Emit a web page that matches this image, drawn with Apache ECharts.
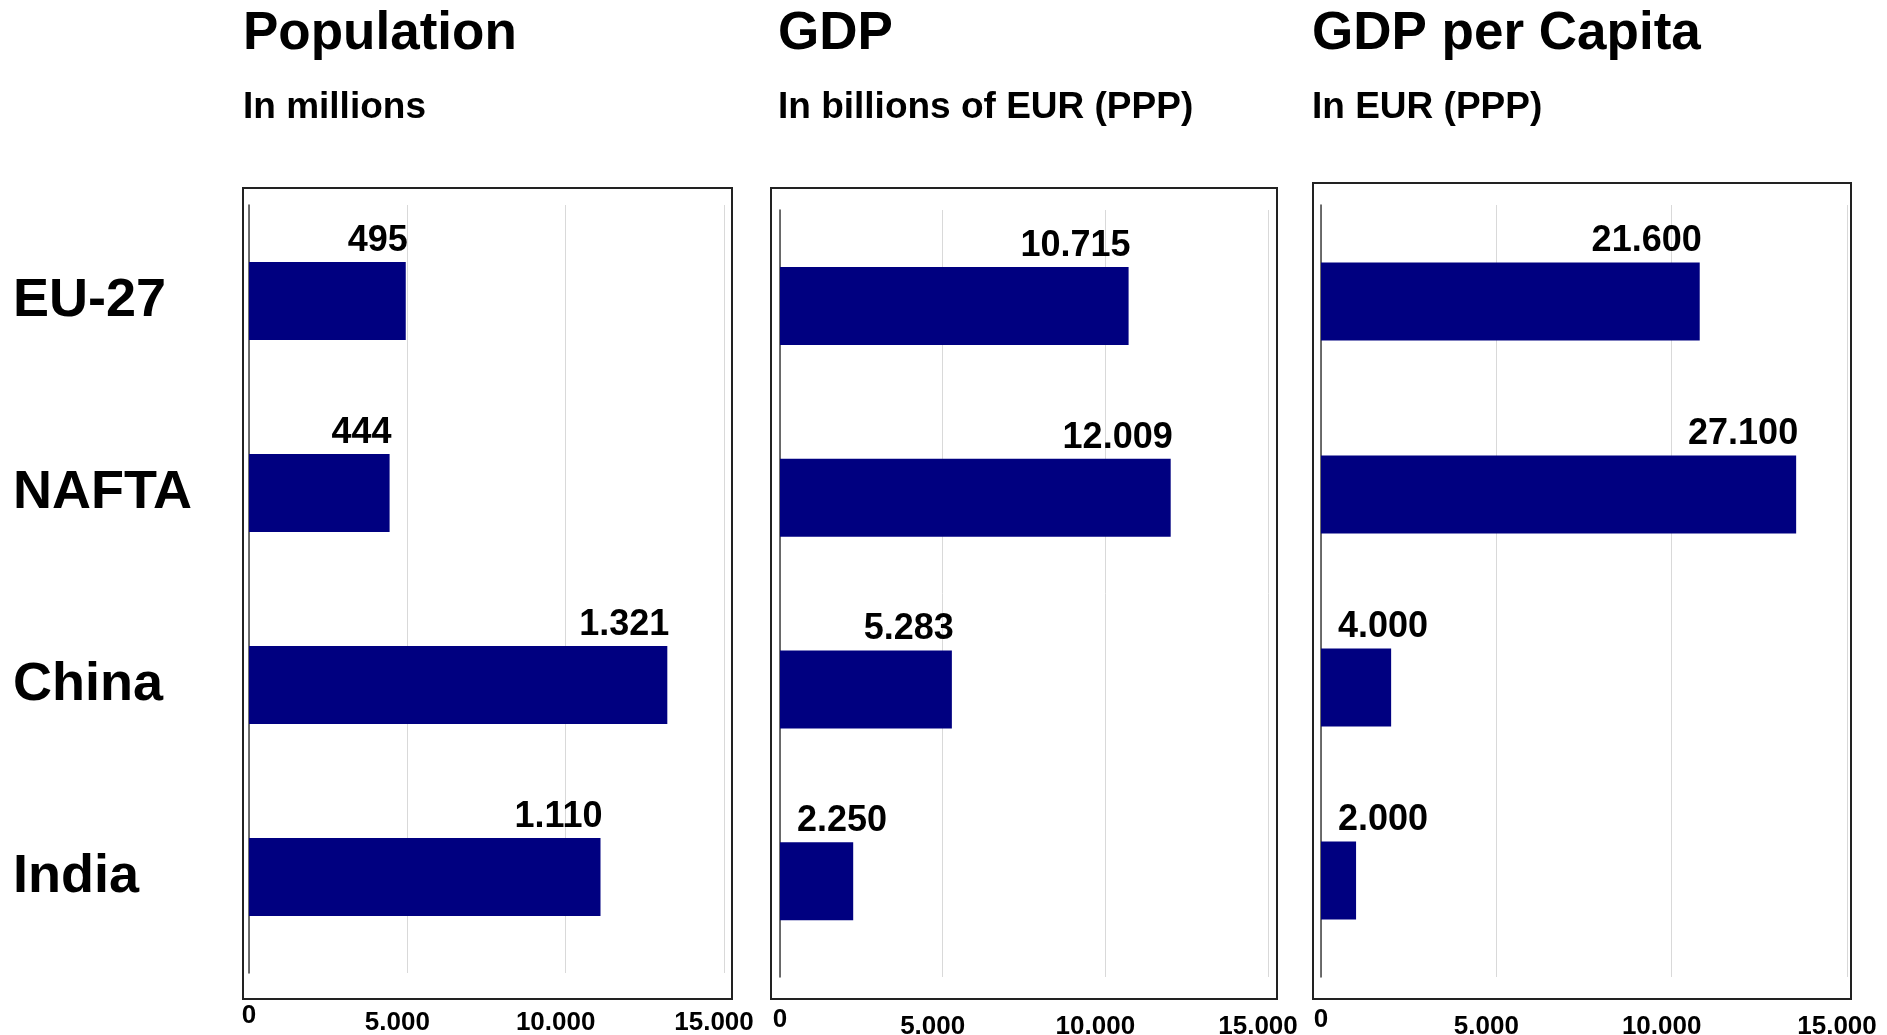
<!DOCTYPE html>
<html>
<head>
<meta charset="utf-8">
<title>EU-27, NAFTA, China, India</title>
<script src="https://cdn.jsdelivr.net/npm/echarts@6/dist/echarts.min.js"></script>
<style>
  html, body { margin: 0; padding: 0; background: #fff; }
  #chart { width: 1887px; height: 1035px; }
</style>
</head>
<body>
<div id="chart"></div>
<script>
const regions = ['EU-27', 'NAFTA', 'China', 'India'];
const axisMax = 15000;
const axisStep = 5000;

// values printed on the bars
const population = [495, 444, 1321, 1110];        // in millions
const gdp = [10715, 12009, 5283, 2250];           // in billions of EUR (PPP)
const gdpPerCapita = [21600, 27100, 4000, 2000];  // in EUR (PPP)

// bar lengths as drawn against the 0 - 15.000 axes
const populationBars = [4950, 4440, 13210, 11100];
const gdpBars = [10715, 12009, 5283, 2250];
const gdpPerCapitaBars = [10800, 13550, 2000, 1000];

const FONT = '"Liberation Sans", Arial, Helvetica, sans-serif';
const NAVY = '#000080';

// german style thousands separator: 10.715
const fmt = n => String(n).replace(/\B(?=(\d{3})+(?!\d))/g, '.');

const panels = [
  { title: 'Population', sub: 'In millions', bars: populationBars, labels: population,
    titleLeft: 243, grid: { left: 249, top: 205, width: 475, height: 768 },
    frame: { x: 243, y: 188, width: 489, height: 811 } },
  { title: 'GDP', sub: 'In billions of EUR (PPP)', bars: gdpBars, labels: gdp,
    titleLeft: 778, grid: { left: 780, top: 210, width: 488, height: 767 },
    frame: { x: 771, y: 188, width: 506, height: 811 } },
  { title: 'GDP per Capita', sub: 'In EUR (PPP)', bars: gdpPerCapitaBars, labels: gdpPerCapita,
    titleLeft: 1312, grid: { left: 1321, top: 205, width: 526, height: 772 },
    frame: { x: 1313, y: 183, width: 538, height: 816 } }
];

const boldText = (size) => ({ fontSize: size, fontWeight: 'bold', color: '#000', fontFamily: FONT });

// labels sit above the bar, right aligned to its end; short bars get them from the axis
const longLabel = { position: ['100%', 0], align: 'right', verticalAlign: 'bottom', offset: [2, -3] };
const shortLabel = { position: [0, 0], align: 'left', verticalAlign: 'bottom', offset: [17, -3] };

const chart = echarts.init(document.getElementById('chart'));

const option = {
  backgroundColor: '#fff',
  animation: false,
  title: panels.map(p => ({
    text: p.title,
    subtext: p.sub,
    left: p.titleLeft,
    top: 8,
    padding: 0,
    itemGap: 28,
    textStyle: boldText(53),
    subtextStyle: boldText(37)
  })),
  grid: panels.map(p => Object.assign({ containLabel: false, outerBoundsMode: 'none' }, p.grid)),
  xAxis: panels.map((p, i) => ({
    gridIndex: i,
    type: 'value',
    min: 0,
    max: axisMax,
    interval: axisStep,
    axisLine: { show: false },
    axisTick: { show: false },
    splitLine: { lineStyle: { color: '#d9d9d9', width: 1 } },
    axisLabel: {
      margin: 30,
      verticalAlign: 'top',
      formatter: v => (v === 0 ? '{z|0}' : '{n|' + fmt(v) + '}'),
      rich: {
        z: boldText(26),
        n: Object.assign({ padding: [7, 20, 0, 0] }, boldText(26))
      }
    }
  })),
  yAxis: panels.map((p, i) => ({
    gridIndex: i,
    type: 'category',
    data: regions,
    inverse: true,
    axisLine: { lineStyle: { color: '#404040', width: 1.5 } },
    axisTick: { length: 8, lineStyle: { color: '#404040', width: 1.5 } },
    axisLabel: i === 0
      ? Object.assign({ align: 'left', margin: 236 }, boldText(54))
      : { show: false }
  })),
  series: panels.map((p, i) => ({
    type: 'bar',
    xAxisIndex: i,
    yAxisIndex: i,
    barWidth: 78,
    itemStyle: { color: NAVY },
    label: Object.assign({ show: true, formatter: d => fmt(p.labels[d.dataIndex]) }, boldText(36)),
    data: p.bars.map(v => ({ value: v, label: v < 3000 ? shortLabel : longLabel }))
  })),
  graphic: panels.map(p => ({
    type: 'rect',
    silent: true,
    z: 0,
    shape: p.frame,
    style: { fill: 'none', stroke: '#222', lineWidth: 2 }
  }))
};

chart.setOption(option);
</script>
</body>
</html>
